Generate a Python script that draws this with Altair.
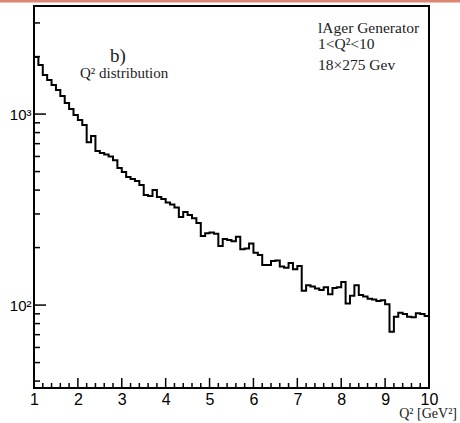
import altair as alt
import pandas as pd

# ---- data ----
bin_low = [1.0, 1.1, 1.2, 1.3, 1.4, 1.5, 1.6, 1.7, 1.8, 1.9,
           2.0, 2.1, 2.2, 2.3, 2.4, 2.5, 2.6, 2.7, 2.8, 2.9,
           3.0, 3.1, 3.2, 3.3, 3.4, 3.5, 3.6, 3.7, 3.8, 3.9,
           4.0, 4.1, 4.2, 4.3, 4.4, 4.5, 4.6, 4.7, 4.8, 4.9,
           5.0, 5.1, 5.2, 5.3, 5.4, 5.5, 5.6, 5.7, 5.8, 5.9,
           6.0, 6.1, 6.2, 6.3, 6.4, 6.5, 6.6, 6.7, 6.8, 6.9,
           7.0, 7.1, 7.2, 7.3, 7.4, 7.5, 7.6, 7.7, 7.8, 7.9,
           8.0, 8.1, 8.2, 8.3, 8.4, 8.5, 8.6, 8.7, 8.8, 8.9,
           9.0, 9.1, 9.2, 9.3, 9.4, 9.5, 9.6, 9.7, 9.8, 9.9]
counts = [1990, 1805, 1600, 1507, 1419, 1336, 1242, 1142, 1062, 988,
          930, 876, 713, 767, 640, 625, 614, 599, 574, 522,
          497, 468, 457, 446, 425, 377, 372, 400, 368, 359,
          344, 336, 324, 289, 307, 296, 285, 269, 230, 238,
          240, 236, 204, 222, 219, 216, 228, 196, 198, 210,
          188, 183, 162, 162, 170, 171, 159, 157, 166, 154,
          160, 119, 127, 125, 122, 120, 124, 114, 123, 124,
          132, 102, 112, 127, 113, 111, 108, 107, 105, 106,
          101, 72.5, 86.9, 91.1, 89.7, 86.9, 86.3, 90.5, 89.7, 87.6]
x_end = 10.0

x_major = [1, 2, 3, 4, 5, 6, 7, 8, 9, 10]
x_minor = [1.2, 1.4, 1.6, 1.8, 2.2, 2.4, 2.6, 2.8, 3.2, 3.4, 3.6, 3.8,
           4.2, 4.4, 4.6, 4.8, 5.2, 5.4, 5.6, 5.8, 6.2, 6.4, 6.6, 6.8,
           7.2, 7.4, 7.6, 7.8, 8.2, 8.4, 8.6, 8.8, 9.2, 9.4, 9.6, 9.8]
y_major = [100, 1000]
y_minor = [40, 50, 60, 70, 80, 90, 200, 300, 400, 500, 600, 700, 800, 900,
           2000, 3000]

label_b = "b)"
label_dist = "Q² distribution"
info_lines = ["lAger Generator", "1<Q²<10", "18×275 Gev"]
x_title = "Q² [GeV²]"

# ---- chart ----
W, H = 395, 382
x_scale = alt.Scale(domain=[1, 10], nice=False, zero=False)
y_scale = alt.Scale(type="log", domain=[36.8, 3680], nice=False)

x_axis = alt.Axis(values=x_major, title=None, grid=False, domain=False,
                  ticks=False, labelFont="Liberation Sans", labelFontSize=16,
                  labelPadding=3, labelFlush=False, labelColor="black")
y_axis = alt.Axis(values=y_major, title=None, grid=False, domain=False,
                  ticks=False, labelFont="Liberation Sans", labelFontSize=15,
                  labelPadding=3, labelColor="black",
                  labelExpr="datum.value == 100 ? '10²' : '10³'")

hist_df = pd.DataFrame({"q2": bin_low + [x_end], "n": counts + [counts[-1]]})

hist = alt.Chart(hist_df).mark_line(
    interpolate="step-after", color="black", strokeWidth=2
).encode(
    x=alt.X("q2:Q", scale=x_scale, axis=x_axis),
    y=alt.Y("n:Q", scale=y_scale, axis=y_axis),
)

xmaj = alt.Chart(pd.DataFrame({"q2": x_major})).mark_rule(color="black", strokeWidth=1.5).encode(
    x=alt.X("q2:Q", scale=x_scale, axis=x_axis), y=alt.value(H), y2=alt.value(H - 10))
xmin = alt.Chart(pd.DataFrame({"q2": x_minor})).mark_rule(color="black", strokeWidth=1.5).encode(
    x=alt.X("q2:Q", scale=x_scale, axis=x_axis), y=alt.value(H), y2=alt.value(H - 5))
ymaj = alt.Chart(pd.DataFrame({"n": y_major})).mark_rule(color="black", strokeWidth=1.5).encode(
    y=alt.Y("n:Q", scale=y_scale, axis=y_axis), x=alt.value(0), x2=alt.value(12))
ymin = alt.Chart(pd.DataFrame({"n": y_minor})).mark_rule(color="black", strokeWidth=1.5).encode(
    y=alt.Y("n:Q", scale=y_scale, axis=y_axis), x=alt.value(0), x2=alt.value(6))

serif = "Liberation Serif"
t_b = alt.Chart(pd.DataFrame({"t": [label_b]})).mark_text(
    font=serif, fontSize=19, align="center", baseline="alphabetic", color="#222"
).encode(text="t:N", x=alt.value(84), y=alt.value(56))
t_d = alt.Chart(pd.DataFrame({"t": [label_dist]})).mark_text(
    font=serif, fontSize=15, align="left", baseline="alphabetic", color="#222"
).encode(text="t:N", x=alt.value(46), y=alt.value(72))

t_info1 = alt.Chart(pd.DataFrame({"t": [info_lines[0]]})).mark_text(
    font=serif, fontSize=15.5, align="left", baseline="alphabetic", color="#222"
).encode(text="t:N", x=alt.value(284), y=alt.value(26.5))
t_info2 = alt.Chart(pd.DataFrame({"t": [info_lines[1]]})).mark_text(
    font=serif, fontSize=15.5, align="left", baseline="alphabetic", color="#222"
).encode(text="t:N", x=alt.value(284), y=alt.value(42.5))
t_info3 = alt.Chart(pd.DataFrame({"t": [info_lines[2]]})).mark_text(
    font=serif, fontSize=15.5, align="left", baseline="alphabetic", color="#222"
).encode(text="t:N", x=alt.value(284), y=alt.value(64))

t_xt = alt.Chart(pd.DataFrame({"t": [x_title]})).mark_text(
    font=serif, fontSize=14, align="right", baseline="alphabetic", color="#222"
).encode(text="t:N", x=alt.value(423), y=alt.value(412))

band = alt.Chart(pd.DataFrame({"t": [0]})).mark_rule(color="#dc8570", strokeWidth=3).encode(
    x=alt.value(-34), x2=alt.value(426), y=alt.value(-5))

chart = alt.layer(hist, xmaj, xmin, ymaj, ymin, t_b, t_d,
                  t_info1, t_info2, t_info3, t_xt, band).properties(
    width=W, height=H,
    autosize=alt.AutoSizeParams(type="none"),
    padding={"left": 34, "top": 6, "right": 31, "bottom": 35},
    background="white",
).configure_view(stroke="black", strokeWidth=2)

chart.save("out.html", embed_options={"renderer": "svg", "actions": False})
